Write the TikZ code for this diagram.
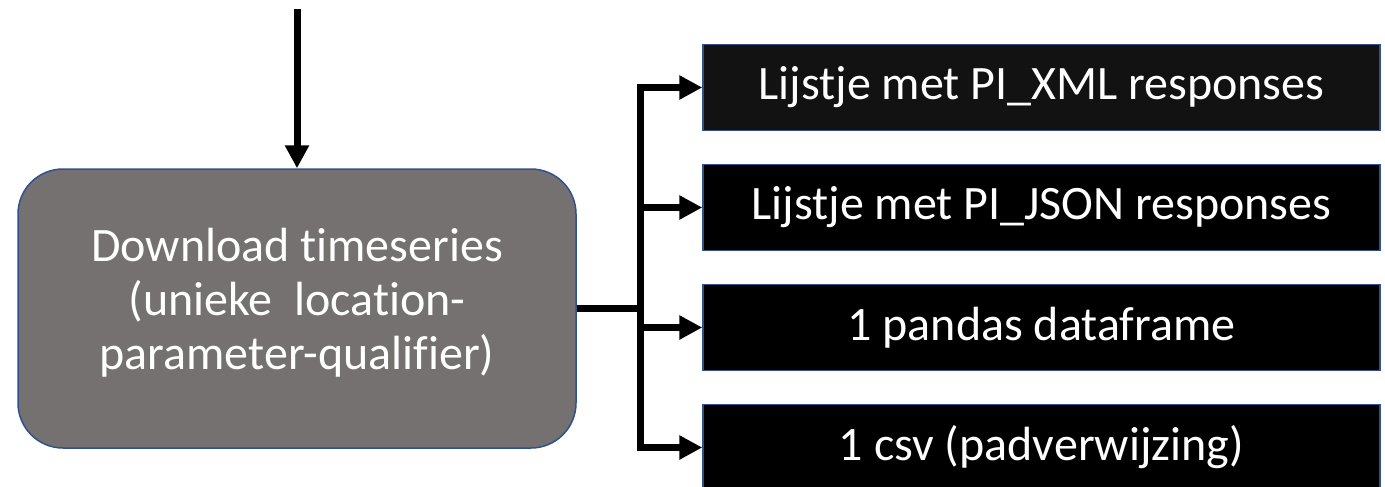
\documentclass[tikz,border=0pt]{standalone}
\usepackage{fontspec}
\setmainfont{Carlito}[Ligatures=NoCommon]
\usetikzlibrary{positioning,arrows.meta}
\definecolor{boxgrey}{HTML}{767171}
\definecolor{edgeblue}{HTML}{2F528F}
\begin{document}
\begin{tikzpicture}[x=1pt,y=-1pt,>={Triangle[length=23pt,width=23pt]},node distance=32.5pt,
    main node/.style={rectangle,rounded corners=45pt,draw=edgeblue,line width=1.5pt,fill=boxgrey,text=white,minimum width=558pt,minimum height=279pt,align=center,font=\fontsize{48}{54}\selectfont},
    sub node/.style={rectangle,draw=edgeblue,line width=1.5pt,fill=black,text=white,minimum width=677pt,minimum height=86pt,font=\fontsize{48}{54}\selectfont},
    conn/.style={->,line width=7pt}]
    \useasboundingbox (0,0) rectangle (1385,487);

    \node[main node] (dl) at (297,308.5) {Download timeseries\\(unieke\ \ location-\\parameter-qualifier)\rule[-20pt]{0pt}{0pt}};
    \node[sub node,fill=black!93] (xml) at (1041.5,87.5) {Lijstje met PI\_XML responses};
    \node[sub node] (json) [below=of xml] {Lijstje met PI\_JSON responses};
    \node[sub node] (df) [below=of json] {1 pandas dataframe};
    \node[sub node] (csv) [below=of df] {1 csv (padverwijzing)};
    \coordinate (in) at (297,9);

    \draw[conn] (in) -- (dl);
    \foreach \out in {xml,json,df,csv}
        \draw[conn] (dl.east) -- ++(64,0) |- (\out);

\end{tikzpicture}
\end{document}
